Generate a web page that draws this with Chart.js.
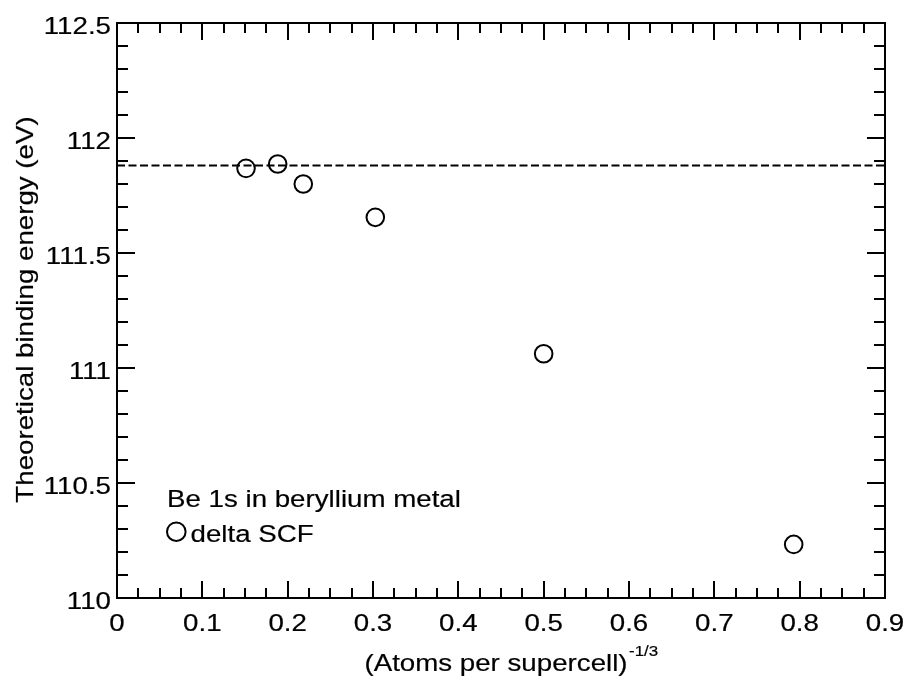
<!DOCTYPE html>
<html>
<head>
<meta charset="utf-8">
<script src="https://cdn.jsdelivr.net/npm/chart.js@4/dist/chart.umd.min.js"></script>
<style>
html,body{margin:0;padding:0;background:#fff;}
canvas{display:block;}
</style>
</head>
<body>
<canvas id="c" width="907" height="677"></canvas>
<script>
// ---- data ----
const xValues = [0.1512, 0.1883, 0.2183, 0.3027, 0.5000, 0.7930];
const yValues = [111.868, 111.887, 111.800, 111.655, 111.062, 110.233];
const referenceEnergy = 111.880;
const referenceLineX = [0, 0.9];

const xMajorTicks = [0, 0.1, 0.2, 0.3, 0.4, 0.5, 0.6, 0.7, 0.8, 0.9];
const xTickLabels = ['0', '0.1', '0.2', '0.3', '0.4', '0.5', '0.6', '0.7', '0.8', '0.9'];
const yMajorTicks = [110, 110.5, 111, 111.5, 112, 112.5];
const yTickLabels = ['110', '110.5', '111', '111.5', '112', '112.5'];
const xMinorPerMajor = 4;
const yMinorPerMajor = 5;

const xTitleMain = '(Atoms per supercell)';
const xTitleSup = '-1/3';
const yTitle = 'Theoretical binding energy (eV)';
const legendTitle = 'Be 1s in beryllium metal';
const seriesName = 'delta SCF';

// ---- styling ----
const FAMILY = '"Liberation Sans", Arial, sans-serif';
const FONT = '24.5px ' + FAMILY;
const SUPFONT = '15px ' + FAMILY;
const SX = 1.13;
const INK = '#000';
const TEXT_STROKE = 0.2;

function paintText(ctx, text) {
  ctx.fillStyle = INK;
  ctx.fillText(text, 0, 0);
  ctx.strokeStyle = INK;
  ctx.lineWidth = TEXT_STROKE;
  ctx.lineJoin = 'round';
  ctx.strokeText(text, 0, 0);
}

function stretchedText(ctx, text, x, y, align, font) {
  ctx.save();
  ctx.font = font;
  ctx.textBaseline = 'alphabetic';
  ctx.textAlign = 'left';
  const w = ctx.measureText(text).width * SX;
  const left = align === 'center' ? x - w / 2 : (align === 'right' ? x - w : x);
  ctx.translate(left, y);
  ctx.scale(SX, 1);
  paintText(ctx, text);
  ctx.restore();
  return w;
}

const framePlugin = {
  id: 'frame',
  afterDatasetsDraw(chart) {
    const ctx = chart.ctx;
    const a = chart.chartArea;
    const xs = chart.scales.x, ys = chart.scales.y;
    ctx.save();
    ctx.strokeStyle = INK;
    ctx.lineWidth = 2;
    ctx.lineCap = 'butt';
    ctx.strokeRect(a.left, a.top, a.right - a.left, a.bottom - a.top);
    const xStep = (xMajorTicks[1] - xMajorTicks[0]) / xMinorPerMajor;
    const nX = (xMajorTicks.length - 1) * xMinorPerMajor;
    ctx.beginPath();
    for (let i = 0; i <= nX; i++) {
      const v = xMajorTicks[0] + i * xStep;
      const px = Math.round(xs.getPixelForValue(v));
      const len = (i % xMinorPerMajor === 0) ? 17 : 10;
      ctx.moveTo(px, a.bottom); ctx.lineTo(px, a.bottom - len);
      ctx.moveTo(px, a.top); ctx.lineTo(px, a.top + len);
    }
    const yStep = (yMajorTicks[1] - yMajorTicks[0]) / yMinorPerMajor;
    const nY = (yMajorTicks.length - 1) * yMinorPerMajor;
    for (let i = 0; i <= nY; i++) {
      const v = yMajorTicks[0] + i * yStep;
      const py = Math.round(ys.getPixelForValue(v));
      const len = (i % yMinorPerMajor === 0) ? 18 : 11;
      ctx.moveTo(a.left, py); ctx.lineTo(a.left + len, py);
      ctx.moveTo(a.right, py); ctx.lineTo(a.right - len, py);
    }
    ctx.stroke();
    ctx.restore();

    // tick labels
    xMajorTicks.forEach((v, i) => {
      stretchedText(ctx, xTickLabels[i], xs.getPixelForValue(v), a.bottom + 32.5, 'center', FONT);
    });
    yMajorTicks.forEach((v, i) => {
      stretchedText(ctx, yTickLabels[i], a.left - 6, ys.getPixelForValue(v) + 10.5, 'right', FONT);
    });

    // x title with superscript
    ctx.save();
    ctx.font = FONT;
    const wMain = ctx.measureText(xTitleMain).width * SX;
    ctx.restore();
    const cx = (a.left + a.right) / 2 - 5;
    const startX = cx - wMain / 2;
    stretchedText(ctx, xTitleMain, startX, 671, 'left', FONT);
    stretchedText(ctx, xTitleSup, startX + wMain + 1.5, 656, 'left', SUPFONT);

    // y title rotated
    ctx.save();
    ctx.font = FONT;
    const wY = ctx.measureText(yTitle).width;
    ctx.translate(33, (a.top + a.bottom) / 2 - 1);
    ctx.rotate(-Math.PI / 2);
    ctx.scale(SX, 1);
    ctx.textBaseline = 'alphabetic';
    ctx.textAlign = 'left';
    ctx.translate(-wY / 2, 0);
    paintText(ctx, yTitle);
    ctx.restore();

    // legend
    stretchedText(ctx, legendTitle, 167, 507, 'left', FONT);
    ctx.save();
    ctx.strokeStyle = INK;
    ctx.lineWidth = 2;
    ctx.beginPath();
    ctx.arc(176.3, 531.7, 9.3, 0, Math.PI * 2);
    ctx.stroke();
    ctx.restore();
    stretchedText(ctx, seriesName, 190.5, 541.5, 'left', FONT);
  }
};

const points = xValues.map((x, i) => ({ x: x, y: yValues[i] }));
const refLine = referenceLineX.map(x => ({ x: x, y: referenceEnergy }));

new Chart(document.getElementById('c'), {
  type: 'scatter',
  data: {
    datasets: [
      {
        label: seriesName,
        data: points,
        pointStyle: 'circle',
        pointRadius: 8.8,
        pointHoverRadius: 8.8,
        pointBorderWidth: 2,
        borderColor: INK,
        backgroundColor: 'rgba(0,0,0,0)',
        showLine: false
      },
      {
        type: 'line',
        label: 'reference',
        data: refLine,
        borderColor: INK,
        borderWidth: 2,
        borderDash: [8, 3.5],
        pointRadius: 0,
        fill: false
      }
    ]
  },
  options: {
    responsive: false,
    animation: false,
    devicePixelRatio: 1,
    layout: { padding: { left: 117, right: 22, top: 23, bottom: 79 } },
    plugins: { legend: { display: false }, tooltip: { enabled: false } },
    events: [],
    scales: {
      x: { type: 'linear', min: 0, max: 0.9, display: false },
      y: { type: 'linear', min: 110, max: 112.5, display: false }
    }
  },
  plugins: [framePlugin]
});
</script>
</body>
</html>
